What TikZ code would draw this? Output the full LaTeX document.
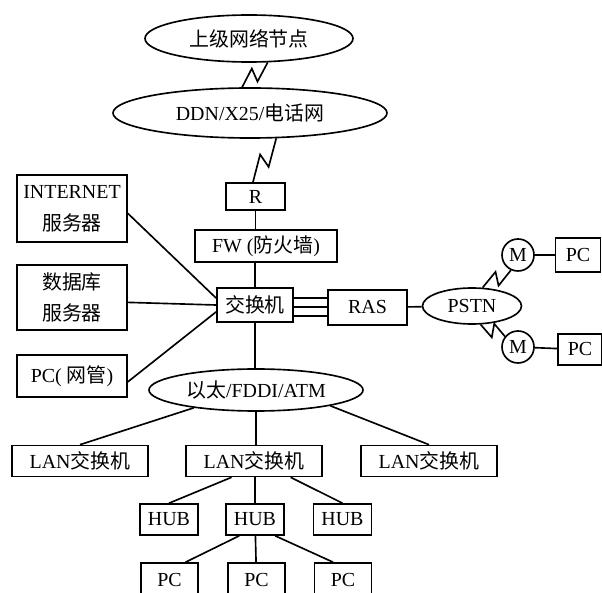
\documentclass[tikz,border=0pt]{standalone}
\usepackage{fontspec}
\setmainfont{Liberation Serif}
\newfontfamily\cjk{Noto Sans CJK SC}
\usetikzlibrary{shapes.geometric, calc}

% lightning link between two anchors, #3 = side of first kink
\newcommand{\zz}[3]{\draw (#1) -- ($(#1)!0.58!(#2)!0.2cm!#3:(#2)$) -- ($(#1)!0.44!(#2)!-0.2cm!#3:(#2)$) -- (#2);}

\begin{document}
\begin{tikzpicture}[x=0.03cm, y=-0.03cm, line width=1.4pt,
    every node/.style={font=\fontsize{17}{27}\selectfont, inner sep=0pt},
    box/.style={draw, rectangle, minimum height=0.93cm, align=center},
    net/.style={draw, ellipse},
    modem/.style={draw, circle, minimum size=0.96cm}]
\useasboundingbox (0,0) rectangle (602,593);
% Upper links
\node[net, minimum width=6.24cm, minimum height=1.41cm] (top) at (249,38.5) {{\cjk 上级网络节点}};
\node[net, minimum width=8.22cm, minimum height=1.5cm] (ddn) at (250,113) {DDN/X25/{\cjk 电话网}};
\node[box, minimum width=1.77cm, minimum height=0.81cm] (r) at (255.5,196.5) {R};
\node[box, minimum width=4.26cm, minimum height=0.96cm] (fw) at (266,246) {FW ({\cjk 防火墙})};
\node[box, minimum width=2.28cm, minimum height=1.02cm] (sw) at (255,305) {{\cjk 交换机}};
% Servers
\node[box, minimum width=3.3cm, minimum height=2.01cm] (inet) at (72,208.5) {INTERNET\\{\cjk 服务器}};
\node[box, minimum width=3.3cm, minimum height=1.95cm] (db) at (72,297.5) {{\cjk 数据库}\\{\cjk 服务器}};
\node[box, minimum width=3.3cm, minimum height=1.26cm] (nms) at (72,376) {PC( {\cjk 网管})};
% Dial-in
\node[box, minimum width=2.37cm, minimum height=1.05cm] (ras) at (367.5,307.5) {RAS};
\node[net, minimum width=2.97cm, minimum height=1.08cm] (pstn) at (472,306) {PSTN};
\node[modem] (m1) at (518,255) {M};
\node[modem] (m2) at (518,347) {M};
\node[box, minimum width=1.35cm, minimum height=1.02cm] (rpc1) at (578,255) {PC};
\node[box, minimum width=1.32cm] (rpc2) at (580,349.5) {PC};
% Backbone
\node[net, minimum width=6.42cm, minimum height=1.26cm] (eth) at (256,390) {{\cjk 以太}/FDDI/ATM};
\foreach \i/\x in {1/80,2/254,3/429} {
    \node[box, minimum width=4.08cm] (lan\i) at (\x,461) {LAN{\cjk 交换机}};
}
\foreach \i/\x in {1/169,2/255,3/342.5} {
    \node[box, minimum width=1.74cm] (hub\i) at (\x,519.5) {HUB};
}
\foreach \i/\x in {1/169.5,2/256.5,3/343} {
    \node[box, minimum width=1.71cm, minimum height=1.02cm] (pc\i) at (\x,580) {PC};
}
% Connections
\zz{top.308}{ddn.107}{90}
\zz{ddn.316}{r.100}{90}
\draw (r.south) -- (r.south |- fw.north);
\draw (sw.north |- fw.south) -- (sw.north);
\draw (inet.-5) -- (sw.170);
\draw (db.-5) -- (sw.west);
\draw (nms.-6) -- (sw.190);
\foreach \d in {-7,2,11} {
    \draw ($(sw.east)+(0,\d)$) -- ($(ras.west |- sw.east)+(0,\d)$);
}
\draw (ras) -- (pstn);
\zz{pstn.60}{m1.245}{90}
\zz{pstn.295}{m2.141}{270}
\draw (m1) -- (rpc1);
\draw (m2) -- (rpc2);
\draw (sw.south) -- (sw.south |- eth.north);
\draw (eth.196) -- (lan1.north);
\draw (eth.south) -- (eth.south |- lan2.north);
\draw (eth.348) -- (lan3.north);
\draw (lan2.216) -- (hub1.north);
\draw (hub2.north |- lan2.south) -- (hub2.north);
\draw (lan2.336) -- (hub3.north);
\draw (hub2.226) -- (pc1.48);
\draw (hub2) -- (pc2);
\draw (hub2.321.5) -- (pc3.119);
\end{tikzpicture}
\end{document}
